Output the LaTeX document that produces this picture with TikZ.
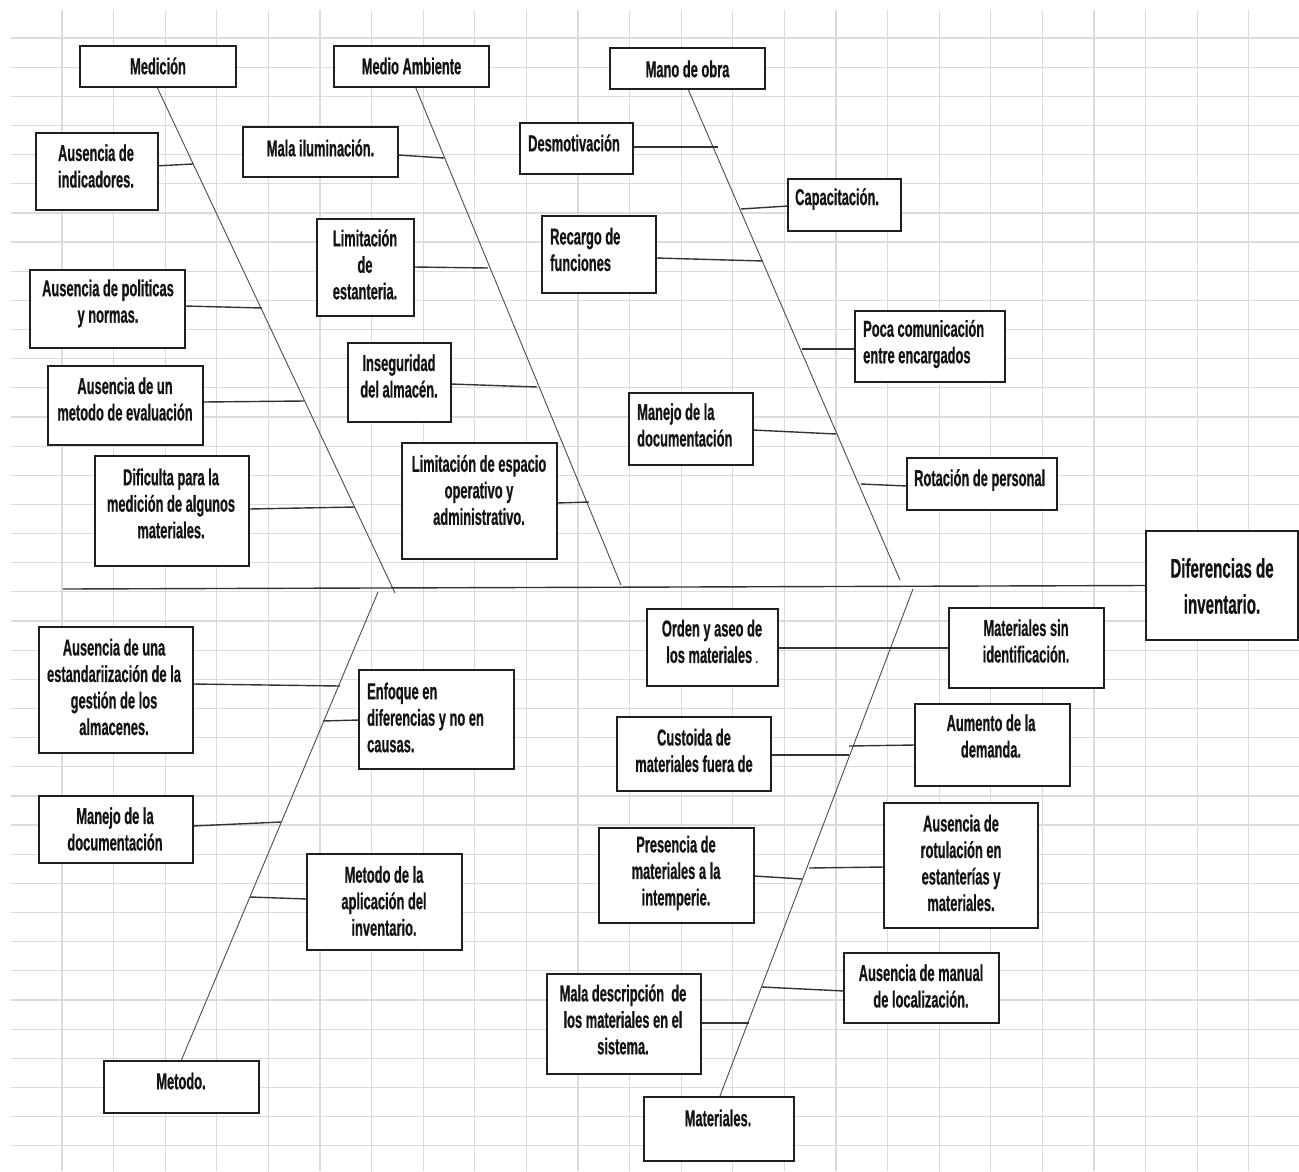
\documentclass[tikz,border=0pt]{standalone}
\usepackage{fontspec}
\newfontfamily\narrowfont{Liberation Sans}[FakeStretch=0.56,FakeBold=0.6]
\begin{document}
\begin{tikzpicture}[x=1pt,y=-1pt,
  gridline/.style={draw=black!14,line width=1.2pt},
  cbox/.style={draw=black!88,line width=1.4pt,fill=white,inner sep=0pt,rectangle},
  txt/.style={font=\narrowfont\bfseries\fontsize{23}{26.5}\selectfont,align=center,inner sep=0pt,text=black!92},
  ltxt/.style={txt,align=left,anchor=west},
  bigtxt/.style={font=\narrowfont\bfseries\fontsize{27}{36}\selectfont,align=center,inner sep=0pt,text=black!92},
  bone/.style={draw=black!70,line width=0.9pt},
  rib/.style={draw=black!80,line width=1.4pt},
  spine/.style={draw=black!80,line width=1.4pt}]

% page and sheet grid
\fill[white] (0,0) rectangle (1299,1171);
\useasboundingbox (0,0) rectangle (1299,1171);
\foreach \i in {1,...,24} \draw[gridline] ({10.4+51.6*\i},10) -- ({10.4+51.6*\i},1171);
\foreach \j in {0,...,38} \draw[gridline] (11,{38+29.15*\j}) -- (1299,{38+29.15*\j});

% bones: main categories to the spine
\coordinate (med-top) at (157,87);   \coordinate (med-end) at (395,593);
\coordinate (amb-top) at (415,86);   \coordinate (amb-end) at (621,585);
\coordinate (mano-top) at (688,89);  \coordinate (mano-end) at (900,580);
\coordinate (met-bot) at (181,1061); \coordinate (met-end) at (378,592);
\coordinate (mat-bot) at (720,1096); \coordinate (mat-end) at (913,589);
\coordinate (spine-l) at (63,589);
\draw[bone] (med-top) -- (med-end);
\draw[bone] (amb-top) -- (amb-end);
\draw[bone] (mano-top) -- (mano-end);
\draw[bone] (met-bot) -- (met-end);
\draw[bone] (mat-bot) -- (mat-end);

% ribs: causes to their bone
\foreach \n/\ax/\ay/\bx/\by in {
  indic/155/166/193/164, ilum/398/155/444/158, estant/414/267/488/268,
  desmot/633/147/718/147, capac/741/209/788/206, recargo/656/258/763/261,
  polit/185/306/262/308, comun/802/349/855/349, insegur/451/384/537/387,
  evalu/203/402/304/401, docup/753/430/836/434, rotac/861/484/907/486,
  dific/249/509/355/507, espac/557/503/589/502,
  estand/193/684/340/686, enfoq/323/721/359/720, docdown/193/826/281/822,
  aplic/250/897/307/899, orden/778/648/949/648, custo/771/755/849/755,
  aument/849/746/915/745, presen/754/876/802/879, rotul/809/868/884/867,
  manual/762/987/844/991, descr/701/1023/749/1023}
{
  \coordinate (\n-a) at (\ax,\ay);
  \coordinate (\n-b) at (\bx,\by);
  \draw[rib] (\n-a) -- (\n-b);
}

% boxes
\foreach \n/\cx/\cy/\w/\h in {
  med/158/66.5/156/41, amb/411.5/66.5/155/41, mano/687.5/68.5/155/41,
  indic/97/171.5/122/77, ilum/320.5/152/155/50, estant/365.5/267.5/97/97,
  desmot/576.5/148.5/113/51, capac/844.5/205/113/52, recargo/599/254.5/114/77,
  polit/107.5/309/155/78, comun/930/346.5/150/71, insegur/399.5/382.5/103/79,
  evalu/125.5/405.5/155/79, docup/691/429/124/72, rotac/982/484/150/52,
  dific/172/511/154/110, espac/479.5/501/155/116, efecto/1222/585.5/152/109,
  estand/116/690/154/126, enfoq/436.5/719.5/155/99, orden/712.5/647.5/131/77,
  sinid/1026.5/648/155/80, custo/694/754/154/74, aument/992.5/745/155/82,
  docdown/116/829.5/154/67, aplic/384.5/902/155/96, presen/676.5/875.5/155/95,
  rotul/961/865.5/154/125, manual/921.5/988/155/70, descr/624/1024/154/100,
  mater/719/1129/150/64, metodo/181.5/1087/155/52}
{
  \node[cbox,minimum width=\w pt,minimum height=\h pt] (\n) at (\cx,\cy) {};
}

% spine to the effect
\draw[spine] (spine-l) -- (efecto.west);

% texts
\node[txt] (med-t) at (158,66) {Medición};
\node[txt] (amb-t) at (411.5,66) {Medio Ambiente};
\node[txt] (mano-t) at (687.5,69) {Mano de obra};
\node[txt] (indic-t) at (96,166) {Ausencia de\\indicadores.};
\node[txt] (ilum-t) at (320.5,148) {Mala iluminación.};
\node[txt] (estant-t) at (365,264.5) {Limitación\\de\\estanteria.};
\node[ltxt] (desmot-t) at (528,143) {Desmotivación};
\node[ltxt] (capac-t) at (795,199) {Capacitación.};
\node[ltxt] (recargo-t) at (550,249.5) {Recargo de\\funciones};
\node[txt] (polit-t) at (108,303.5) {Ausencia de politicas\\y normas.};
\node[ltxt] (comun-t) at (863,344) {Poca comunicación\\entre encargados};
\node[txt] (insegur-t) at (399,376) {Inseguridad\\del almacén.};
\node[txt] (evalu-t) at (125,399) {Ausencia de un\\metodo de evaluación};
\node[ltxt] (docup-t) at (637,425) {Manejo de la\\documentación};
\node[ltxt] (rotac-t) at (914,480) {Rotación de personal};
\node[txt] (dific-t) at (171,503.5) {Dificulta para la\\medición de algunos\\materiales.};
\node[txt] (espac-t) at (479,490) {Limitación de espacio\\operativo y\\administrativo.};
\node[bigtxt] (efecto-t) at (1222,586) {Diferencias de\\inventario.};
\node[txt] (estand-t) at (114,687) {Ausencia de una\\estandariización de la\\gestión de los\\almacenes.};
\node[ltxt] (enfoq-t) at (367,717.5) {Enfoque en\\diferencias y no en\\causas.};
\node[txt] (orden-t) at (712,641.5) {Orden y aseo de\\los materiales {\fontsize{12}{12}\selectfont.}};
\node[txt] (sinid-t) at (1026,641) {Materiales sin\\identificación.};
\node[txt] (custo-t) at (694,750.5) {Custoida de\\materiales fuera de};
\node[txt] (aument-t) at (991,736) {Aumento de la\\demanda.};
\node[txt] (docdown-t) at (115,829) {Manejo de la\\documentación};
\node[txt] (aplic-t) at (384,901) {Metodo de la\\aplicación del\\inventario.};
\node[txt] (presen-t) at (676,873) {Presencia de\\materiales a la\\intemperie.};
\node[txt] (rotul-t) at (961,863) {Ausencia de\\rotulación en\\estanterías y\\materiales.};
\node[txt] (manual-t) at (921,986) {Ausencia de manual\\de localización.};
\node[txt] (descr-t) at (623,1019.5) {Mala descripción~ de\\los materiales en el\\sistema.};
\node[txt] (mater-t) at (718,1118) {Materiales.};
\node[txt] (metodo-t) at (181,1081) {Metodo.};
\end{tikzpicture}
\end{document}
